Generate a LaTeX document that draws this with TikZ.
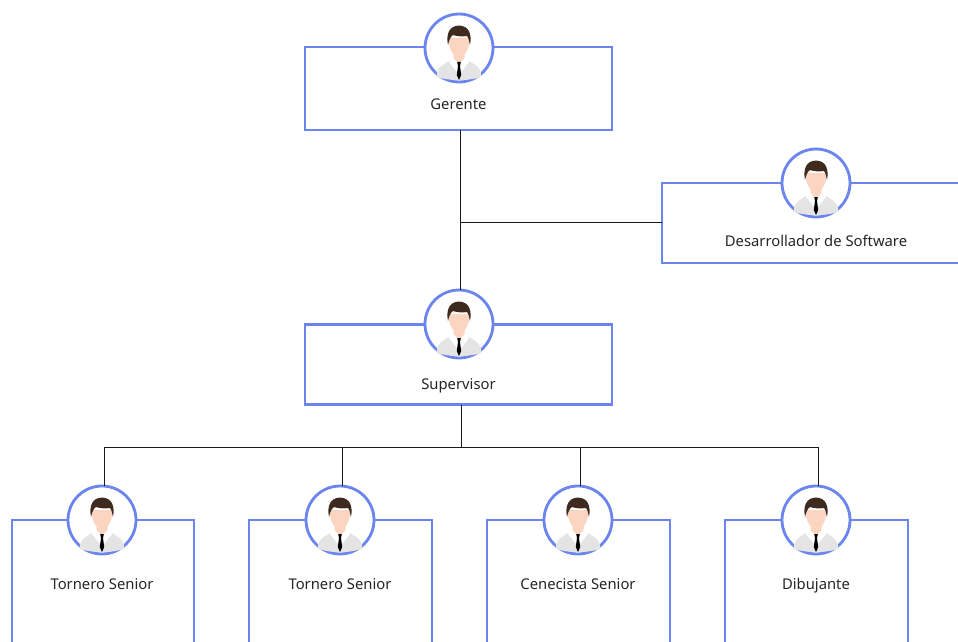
\documentclass[tikz,border=0pt]{standalone}
\usepackage{fontspec}
\setmainfont{Noto Sans}
\definecolor{framecol}{HTML}{6C84EE}
\definecolor{skin}{HTML}{FBD5C0}
\definecolor{hair}{HTML}{3E2A1E}
\definecolor{shirt}{HTML}{E4E4E4}
\tikzset{
  card/.style={draw=framecol,line width=2.8pt,fill=white,rectangle,inner sep=0pt,outer sep=0pt},
  ring/.style={draw=framecol,line width=2.8pt,fill=white,circle,minimum size=68pt,inner sep=0pt,outer sep=0pt},
  caption/.style={font=\fontsize{14.8pt}{17pt}\selectfont,text=black!85,inner sep=0pt,anchor=base},
  wire/.style={draw=black!90,line width=1pt},
  person/.pic={
    \fill[shirt] (-22,29) .. controls (-23,21) and (-19,18) .. (-8,12) -- (8,12) .. controls (19,18) and (23,21) .. (22,29) .. controls (10,33) and (-10,33) .. (-22,29) -- cycle;
    \fill[white] (-10,14) -- (-6,8) -- (6,8) -- (10,14) -- (2,24) -- (-2,24) -- cycle;
    \fill[skin] (-5.5,3) -- (-5.5,10) -- (0,16) -- (5.5,10) -- (5.5,3) -- cycle;
    \fill[skin] (-10.5,-10) .. controls (-10.5,2) and (-5,9) .. (0,9) .. controls (5,9) and (10.5,2) .. (10.5,-10) -- cycle;
    \fill[hair] (-11,-3) .. controls (-13,-14) and (-10,-22) .. (0,-22.5) .. controls (10,-22) and (13,-14) .. (11,-3) .. controls (10,-6) and (10,-10) .. (8,-12) .. controls (3,-11) and (-3,-12) .. (-6,-13) .. controls (-9,-11) and (-10,-7) .. (-11,-3) -- cycle;
    \fill[black] (-1.8,14) -- (1.8,14) -- (1,18) -- (2.2,27) -- (0,32) -- (-2.2,27) -- (-1,18) -- cycle;
  }
}
\begin{document}
\begin{tikzpicture}[x=1pt,y=-1pt]
\useasboundingbox (0,0) rectangle (958,642);
\fill[white] (0,0) rectangle (958,642);
\begin{scope}
\clip (0,0) rectangle (958,642);
% cards
\node[card,minimum width=307pt,minimum height=83pt] (gbox) at (458.5,88.5) {};
\node[card,minimum width=320pt,minimum height=80pt,anchor=west] (dbox) at (662,223) {};
\node[card,minimum width=307pt,minimum height=80pt] (sbox) at (458.5,364.5) {};
\node[card,minimum width=182pt,minimum height=160pt,anchor=north] (b1) at (103,520) {};
\node[card,minimum width=183pt,minimum height=160pt,anchor=north] (b2) at (340.5,520) {};
\node[card,minimum width=183pt,minimum height=160pt,anchor=north] (b3) at (578.5,520) {};
\node[card,minimum width=183pt,minimum height=160pt,anchor=north] (b4) at (816.5,520) {};
% rings
\node[ring] (gc) at (459,48) {};
\node[ring] (dc) at (816,183) {};
\node[ring] (sc) at (459,324) {};
\node[ring] (c1) at (102,520) {};
\node[ring] (c2) at (340,520) {};
\node[ring] (c3) at (578,520) {};
\node[ring] (c4) at (816,520) {};
% people
\pic at (gc.center) {person};
\pic at (dc.center) {person};
\pic at (sc.center) {person};
\pic at (c1.center) {person};
\pic at (c2.center) {person};
\pic at (c3.center) {person};
\pic at (c4.center) {person};
% labels
\node[caption] (gl) at (458.5,109.5) {Gerente};
\node[caption] (dl) at (816,246.5) {Desarrollador de Software};
\node[caption] (sl) at (458.5,389.5) {Supervisor};
\node[caption] (l1) at (102,589.5) {Tornero Senior};
\node[caption] (l2) at (340,589.5) {Tornero Senior};
\node[caption] (l3) at (578,589.5) {Cenecista Senior};
\node[caption] (l4) at (816,589.5) {Dibujante};
% connectors
\coordinate (j) at (460,222);
\coordinate (bus) at (461,447);
\coordinate (t1) at (104,447);
\coordinate (t2) at (342,447);
\coordinate (t3) at (580,447);
\coordinate (t4) at (818,447);
\draw[wire] (gbox.south -| j) -- (sc.north -| j);
\draw[wire] (j) -- (dbox.west |- j);
\draw[wire] (sbox.south -| bus) -- (bus);
\draw[wire] (t1 |- c1.north) -- (t1) -- (t4) -- (t4 |- c4.north);
\draw[wire] (t2) -- (t2 |- c2.north);
\draw[wire] (t3) -- (t3 |- c3.north);
\end{scope}
\end{tikzpicture}
\end{document}
